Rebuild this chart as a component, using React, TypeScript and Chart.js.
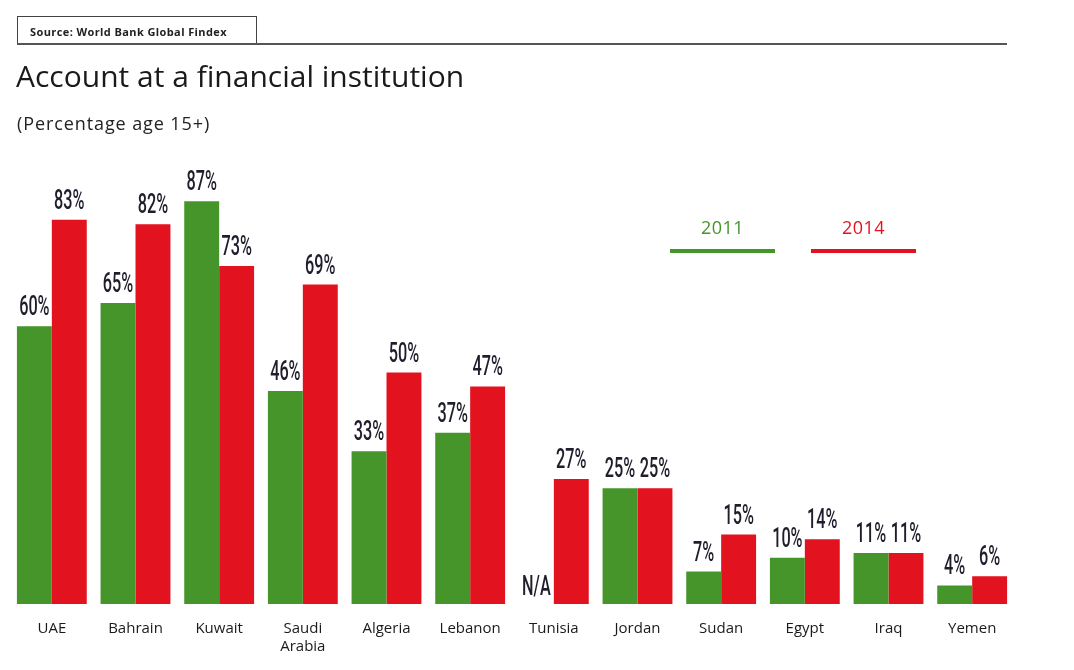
import React, { useEffect, useRef } from "react";
import { Chart, registerables } from "chart.js";

Chart.register(...registerables);

const categories: (string | string[])[] = [
  "UAE", "Bahrain", "Kuwait", ["Saudi", "Arabia"], "Algeria", "Lebanon",
  "Tunisia", "Jordan", "Sudan", "Egypt", "Iraq", "Yemen",
];
const values2011: (number | null)[] = [60, 65, 87, 46, 33, 37, null, 25, 7, 10, 11, 4];
const values2014: number[] = [83, 82, 73, 69, 50, 47, 27, 25, 15, 14, 11, 6];
const seriesNames = ["2011", "2014"];
const GREEN = "#45952b";
const RED = "#e3121f";
const LABEL_COLOR = "#1e1e2c";

const valueLabels = {
  id: "valueLabels",
  afterDatasetsDraw(chart: any) {
    const ctx = chart.ctx;
    const base = chart.scales.y.getPixelForValue(0);
    chart.data.datasets.forEach((ds: any, di: number) => {
      const meta = chart.getDatasetMeta(di);
      meta.data.forEach((el: any, i: number) => {
        const v = ds.data[i];
        const text = v === null || v === undefined ? "N/A" : `${v}%`;
        const y = v === null || v === undefined ? base - 9 : el.y - 11;
        ctx.save();
        ctx.translate(el.x, y);
        ctx.scale(0.58, 1);
        ctx.font = "500 28px Roboto";
        ctx.fillStyle = LABEL_COLOR;
        ctx.textAlign = "center";
        ctx.textBaseline = "alphabetic";
        ctx.fillText(text, 0, 0);
        ctx.restore();
      });
    });
  },
};

export default function App() {
  const ref = useRef<HTMLCanvasElement>(null);
  useEffect(() => {
    const chart = new Chart(ref.current!, {
      type: "bar",
      data: {
        labels: categories,
        datasets: [
          { label: seriesNames[0], data: values2011, backgroundColor: GREEN, categoryPercentage: 0.835, barPercentage: 1 },
          { label: seriesNames[1], data: values2014, backgroundColor: RED, categoryPercentage: 0.835, barPercentage: 1 },
        ],
      },
      options: {
        animation: false,
        responsive: false,
        layout: { padding: { top: 141, left: 10, right: 60, bottom: 0 } },
        plugins: { legend: { display: false }, tooltip: { enabled: false } },
        scales: {
          y: { display: false, min: 0, max: 100 },
          x: {
            grid: { display: false, drawTicks: false },
            border: { display: false },
            ticks: { color: "#1a1a1a", font: { family: "Open Sans", size: 15 }, padding: 16, maxRotation: 0, autoSkip: false },
            afterFit: (s: any) => { s.height = 48; },
          },
        },
      },
      plugins: [valueLabels],
    });
    return () => chart.destroy();
  }, []);

  const font = "'Open Sans', sans-serif";
  return (
    <div style={{ position: "fixed", left: 0, top: 0, width: 1074, height: 670, background: "#fff", fontFamily: font }}>
      <canvas ref={ref} width={1074} height={652} style={{ position: "absolute", left: 0, top: 0, width: 1074, height: 652 }} />
      <div style={{ position: "absolute", left: 17, top: 16, width: 240, height: 28, border: "1.5px solid #444", borderBottom: "none", boxSizing: "border-box" }} />
      <div style={{ position: "absolute", left: 30, top: 24, fontSize: 11, fontWeight: 700, color: "#222", whiteSpace: "nowrap", letterSpacing: 0.4 }}>Source: World Bank Global Findex</div>
      <div style={{ position: "absolute", left: 17, top: 43, width: 990, height: 2, background: "#555" }} />
      <div style={{ position: "absolute", left: 16, top: 55, fontSize: 30, lineHeight: "normal", color: "#1a1a1a", whiteSpace: "nowrap" }}>Account at a financial institution</div>
      <div style={{ position: "absolute", left: 17, top: 111, fontSize: 18, lineHeight: "normal", color: "#222", whiteSpace: "nowrap", letterSpacing: 0.9 }}>(Percentage age 15+)</div>
      <div style={{ position: "absolute", left: 670, top: 215, width: 105, textAlign: "center", fontSize: 18, color: GREEN, letterSpacing: 0.5 }}>{seriesNames[0]}</div>
      <div style={{ position: "absolute", left: 670, top: 249, width: 105, height: 4, background: GREEN }} />
      <div style={{ position: "absolute", left: 811, top: 215, width: 105, textAlign: "center", fontSize: 18, color: RED, letterSpacing: 0.5 }}>{seriesNames[1]}</div>
      <div style={{ position: "absolute", left: 811, top: 249, width: 105, height: 4, background: RED }} />
    </div>
  );
}
